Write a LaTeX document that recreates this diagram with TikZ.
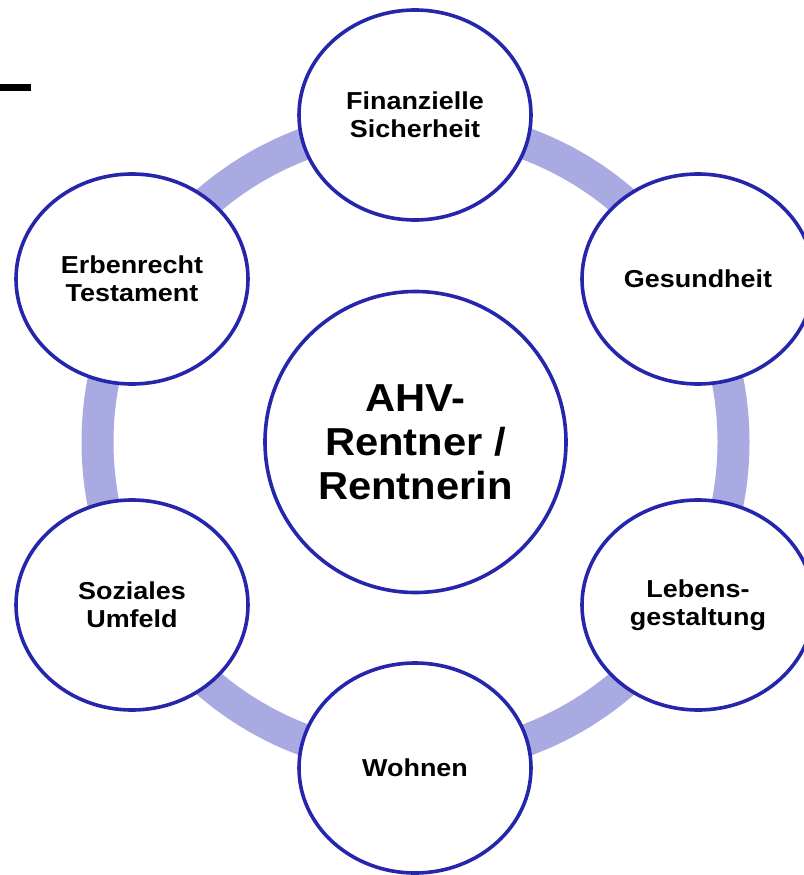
\documentclass[tikz,border=0pt]{standalone}
\usepackage{fontspec}
\usetikzlibrary{shapes.geometric}
\newfontfamily\hubfont[FakeStretch=1.07]{Liberation Sans}
\newfontfamily\topicfont[FakeStretch=1.1]{Liberation Sans}
\definecolor{ringblue}{RGB}{170,170,226}
\definecolor{edgeblue}{RGB}{38,38,172}
\begin{document}
\begin{tikzpicture}[x=1pt,y=-1pt,
    topic/.style={draw=edgeblue,line width=3.6pt,fill=white,ellipse,inner sep=0pt,
        minimum width=232pt,minimum height=210pt,align=center,
        font=\topicfont\bfseries\fontsize{24.5}{28}\selectfont},
    hub/.style={draw=edgeblue,line width=3.6pt,fill=white,circle,inner sep=0pt,
        minimum size=301pt,align=center,
        font=\hubfont\bfseries\fontsize{39}{44}\selectfont}]
\useasboundingbox (0,0) rectangle (803,875);
\fill (0,84) rectangle (31,91);
\coordinate (c) at (415.5,442);
\draw[ringblue,line width=32pt] (c) circle (318);
\node[hub] (ahv) at (c) {AHV-\\Rentner /\\Rentnerin};
\foreach \k/\x/\y/\t in {fin/415/115/{Finanzielle\\Sicherheit}, ges/698/279/Gesundheit,
        leb/698/605/{Lebens-\\gestaltung}, woh/415/768/Wohnen,
        soz/132/605/{Soziales\\Umfeld}, erb/132/279/{Erbenrecht\\Testament}}
    \draw (\x, \y) node[topic] (\k) {\t};
\end{tikzpicture}
\end{document}
